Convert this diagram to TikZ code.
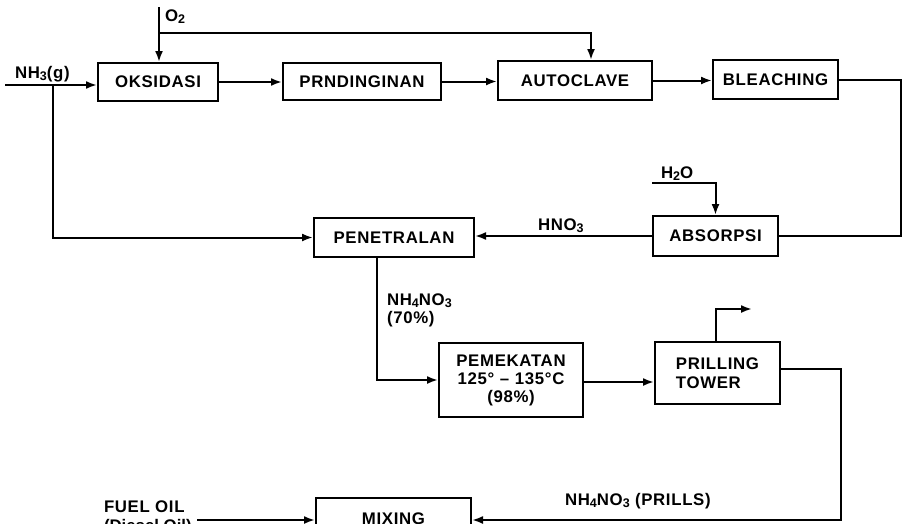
\documentclass[tikz,border=0pt]{standalone}
\usepackage{fontspec}
\setmainfont{Liberation Sans}[LetterSpace=4]
\usetikzlibrary{arrows.meta}
\newcommand{\sbs}[1]{\raisebox{-0.28ex}{\fontsize{12.5}{12}\selectfont #1}}
\begin{document}
\begin{tikzpicture}[x=1pt,y=-1pt,
  line width=2pt,
  every node/.style={font=\fontsize{16.8}{19}\selectfont\bfseries},
  box/.style={draw, rectangle, inner sep=0pt, align=center},
  arr/.style={-{Latex[length=11pt,width=8pt]}},
  lbl/.style={inner sep=0pt, anchor=base west, align=left}]
\useasboundingbox (0,0) rectangle (904,523);
% boxes
\node[box, minimum width=120pt, minimum height=38pt] (oks) at (158,82) {OKSIDASI};
\node[box, minimum width=158pt, minimum height=37pt] (prn) at (362,81.5) {PRNDINGINAN};
\node[box, minimum width=154pt, minimum height=39pt] (auto) at (575,80.5) {AUTOCLAVE};
\node[box, minimum width=125pt, minimum height=39pt] (blea) at (775.5,79.5) {BLEACHING};
\node[box, minimum width=160pt, minimum height=39pt] (pen) at (394,237.5) {PENETRALAN};
\node[box, minimum width=125pt, minimum height=40pt] (abs) at (715.5,236) {ABSORPSI};
\node[box, minimum width=144pt, minimum height=74pt] (pem) at (511,380) {PEMEKATAN\\[-1pt]125°\,\,–\,\,135°C\\[-1pt](98\%)};
\node[box, minimum width=125pt, minimum height=62pt, align=left] (pril) at (717.5,373) {PRILLING\\TOWER};
\node[box, minimum width=155pt, minimum height=42pt] (mix) at (393.5,519) {MIXING};
% coordinates
\coordinate (nh3in) at (5,85);
\coordinate (br) at (53,85);
\coordinate (o2top) at (159,7);
\coordinate (o2br) at (159,33);
\coordinate (o2r) at (591,33);
\coordinate (rc) at (901,79);
\coordinate (h2o) at (652,183);
\coordinate (out) at (752,309);
\coordinate (rc2) at (841,520);
\coordinate (fuel) at (197,520);
% labels
\node[lbl] (lnh3) at (14,78) {NH\sbs{3}(g)};
\node[lbl] (lo2) at (164,21) {O\sbs{2}};
\node[lbl] (lh2o) at (660,178) {H\sbs{2}O};
\node[lbl] (lhno3) at (537,230) {HNO\sbs{3}};
\node[lbl] (lnh4) at (386,323) {NH\sbs{4}NO\sbs{3}\\[-1pt](70\%)};
\node[lbl] (lprills) at (564,505) {NH\sbs{4}NO\sbs{3} (PRILLS)};
\node[lbl] (lfuel) at (103,531) {FUEL OIL\\[0pt]{\addfontfeatures{LetterSpace=0}(Diesel Oil)}};
% connectors
\draw[arr] (nh3in) -- (nh3in -| oks.west);
\draw[arr] (br) |- (pen.west);
\draw[arr] (o2top) -- (o2top |- oks.north);
\draw[arr] (o2br) -- (o2r) -- (o2r |- auto.north);
\draw[arr] (oks.east) -- (oks.east -| prn.west);
\draw[arr] (prn.east) -- (prn.east -| auto.west);
\draw[arr] (auto.east) -- (auto.east -| blea.west);
\draw (blea.east) -- (blea.east -| rc) |- (abs.east);
\draw[arr] (h2o) -| (abs.north);
\draw[arr] (abs.west) -- (abs.west -| pen.east);
\draw[arr] ([xshift=-17pt]pen.south) |- (pem.west);
\draw[arr] ([yshift=-2pt]pem.east) -- ([yshift=-2pt]pem.east -| pril.west);
\draw[arr] ([xshift=-1.5pt]pril.north) |- (out);
\draw[arr] ([yshift=4pt]pril.east) -- ([yshift=4pt]pril.east -| rc2) -- (rc2) -- (rc2 -| mix.east);
\draw[arr] (fuel) -- (fuel -| mix.west);
\end{tikzpicture}
\end{document}
